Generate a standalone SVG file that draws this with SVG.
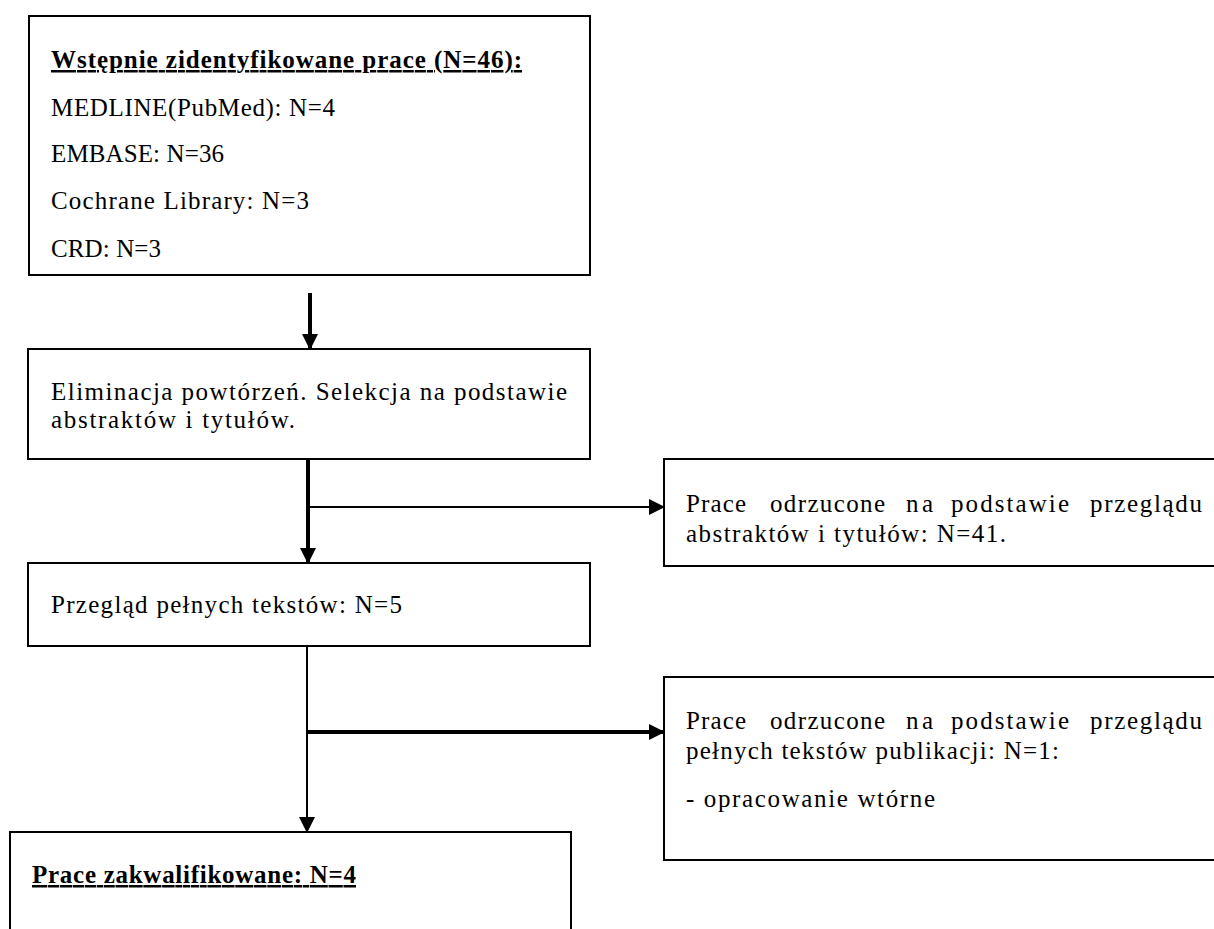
<svg xmlns="http://www.w3.org/2000/svg" width="1214" height="929" viewBox="0 0 1214 929">
<style>
.box{fill:#fff;stroke:#000;stroke-width:2}
.t{font-family:"Liberation Serif","Times New Roman",serif;font-size:25px;fill:#000}
.b{font-weight:bold;text-decoration:underline}
.thin{stroke:#000;stroke-width:2;fill:none}
.thick{stroke:#000;stroke-width:4;fill:none}
</style>
<defs>
<marker id="ah" markerUnits="userSpaceOnUse" markerWidth="16" markerHeight="16" refX="15" refY="8" orient="auto" viewBox="0 0 16 16">
<path d="M0,0 L16,8 L0,16 Z" fill="#000"/>
</marker>
</defs>
<rect width="1214" height="929" fill="#fff"/>
<g id="connectors">
<line class="thick" x1="310" y1="293" x2="310" y2="349" marker-end="url(#ah)"/>
<line class="thick" x1="308" y1="459" x2="308" y2="563" marker-end="url(#ah)"/>
<line class="thin" x1="308" y1="507" x2="664" y2="507" marker-end="url(#ah)"/>
<line class="thin" x1="307" y1="646" x2="307" y2="832" marker-end="url(#ah)"/>
<line class="thick" x1="307" y1="732" x2="664" y2="732" marker-end="url(#ah)"/>
</g>
<g id="n1">
<rect class="box" x="29" y="16" width="561" height="259"/>
<text class="t b" x="51" y="68" textLength="471" lengthAdjust="spacing">Wstępnie zidentyfikowane prace  (N=46):</text>
<text class="t" x="51" y="116" textLength="284" lengthAdjust="spacing">MEDLINE(PubMed): N=4</text>
<text class="t" x="51" y="162" textLength="173" lengthAdjust="spacing">EMBASE: N=36</text>
<text class="t" x="51" y="209" textLength="258" lengthAdjust="spacing">Cochrane Library: N=3</text>
<text class="t" x="51" y="257" textLength="110" lengthAdjust="spacing">CRD: N=3</text>
</g>
<g id="n2">
<rect class="box" x="28" y="349" width="562" height="110"/>
<text class="t" x="51" y="400" textLength="516" lengthAdjust="spacing">Eliminacja powtórzeń. Selekcja na podstawie</text>
<text class="t" x="51" y="428" textLength="244" lengthAdjust="spacing">abstraktów i tytułów.</text>
</g>
<g id="n3">
<rect class="box" x="28" y="563" width="562" height="83"/>
<text class="t" x="51" y="613" textLength="351" lengthAdjust="spacing">Przegląd pełnych tekstów: N=5</text>
</g>
<g id="n4">
<rect class="box" x="664" y="459" width="580" height="107"/>
<text class="t" y="512"><tspan x="686" textLength="60" lengthAdjust="spacing">Prace</tspan><tspan x="770" textLength="115" lengthAdjust="spacing">odrzucone</tspan><tspan x="906" textLength="27" lengthAdjust="spacing">na</tspan><tspan x="951" textLength="118" lengthAdjust="spacing">podstawie</tspan><tspan x="1090" textLength="112" lengthAdjust="spacing">przeglądu</tspan></text>
<text class="t" x="686" y="542" textLength="320" lengthAdjust="spacing">abstraktów i tytułów: N=41.</text>
</g>
<g id="n5">
<rect class="box" x="664" y="677" width="580" height="183"/>
<text class="t" y="729"><tspan x="686" textLength="60" lengthAdjust="spacing">Prace</tspan><tspan x="770" textLength="115" lengthAdjust="spacing">odrzucone</tspan><tspan x="906" textLength="27" lengthAdjust="spacing">na</tspan><tspan x="951" textLength="118" lengthAdjust="spacing">podstawie</tspan><tspan x="1090" textLength="112" lengthAdjust="spacing">przeglądu</tspan></text>
<text class="t" x="686" y="759" textLength="373" lengthAdjust="spacing">pełnych tekstów publikacji: N=1:</text>
<text class="t" x="686" y="807" textLength="249" lengthAdjust="spacing">- opracowanie wtórne</text>
</g>
<g id="n6">
<rect class="box" x="10" y="832" width="561" height="120"/>
<text class="t b" x="32" y="883" textLength="324" lengthAdjust="spacing">Prace zakwalifikowane: N=4</text>
</g>
</svg>
